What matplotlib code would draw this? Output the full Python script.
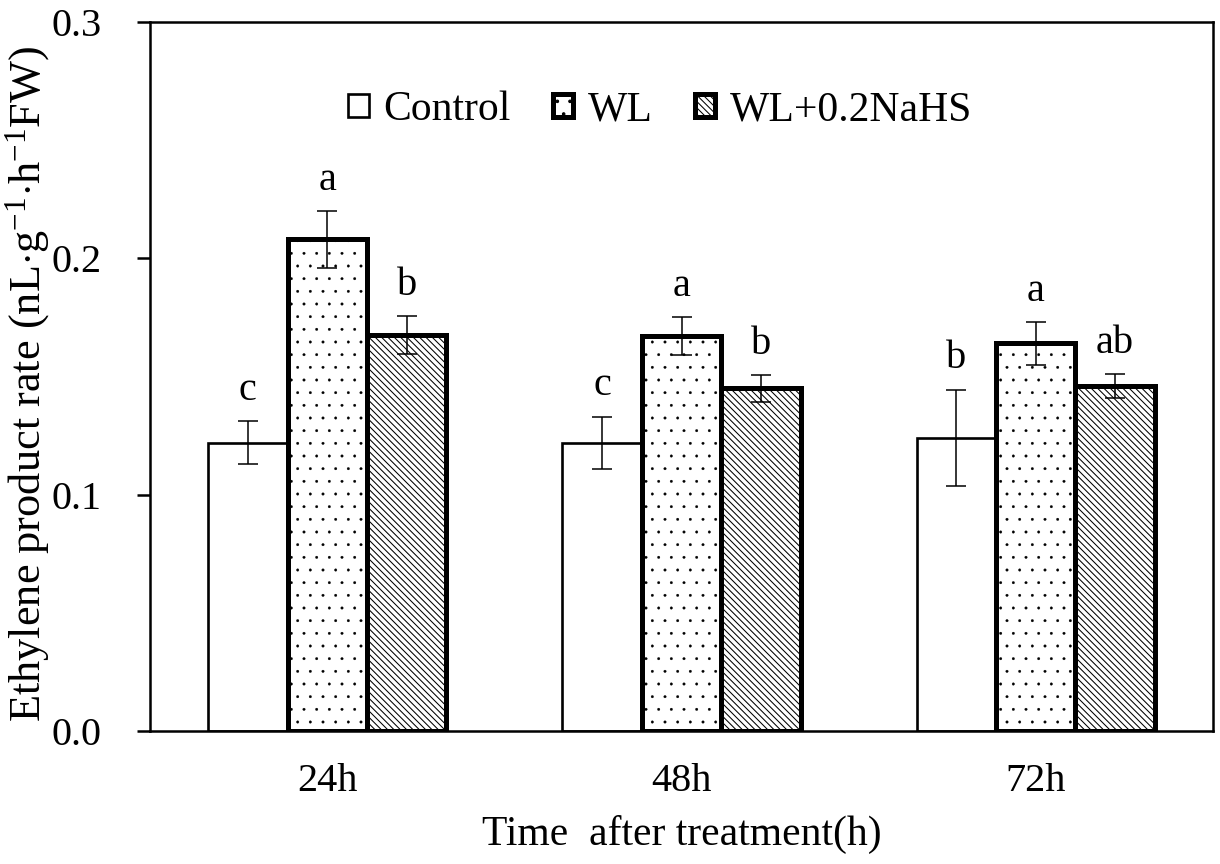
import matplotlib
matplotlib.use("Agg")
import matplotlib.pyplot as plt
import numpy as np

# datos
tiempos = ["24h", "48h", "72h"]
tratamientos = ["Control", "WL", "WL+0.2NaHS"]
control = [0.122, 0.122, 0.124]
control_err = [0.009, 0.011, 0.0205]
wl = [0.208, 0.167, 0.164]
wl_err = [0.012, 0.008, 0.009]
nahs = [0.1675, 0.145, 0.146]
nahs_err = [0.008, 0.0057, 0.005]
letras_control = ["c", "c", "b"]
letras_wl = ["a", "a", "a"]
letras_nahs = ["b", "b", "ab"]

# dpi bajo para que las tramas queden con la separacion del original;
# los tamaños en puntos se escalan con k
DPI = 76
k = 100 / DPI

plt.rcParams["font.family"] = ["Liberation Serif", "DejaVu Serif"]
plt.rcParams["mathtext.fontset"] = "custom"
plt.rcParams["mathtext.rm"] = "Liberation Serif"
plt.rcParams["mathtext.it"] = "Liberation Serif:italic"
plt.rcParams["hatch.linewidth"] = 0.75 * k

fig = plt.figure(figsize=(1221 / DPI, 864 / DPI), dpi=DPI)
ax = fig.add_axes([0.1229, 0.1539, 0.8705, 0.8206])

x = np.arange(len(tiempos))
ancho = 0.224

# (valores, errores, letras, trama, grosor borde, grosor trama)
series = [
    (control, control_err, letras_control, "", 1.9, 0.75),
    (wl, wl_err, letras_wl, ".", 3.6, 0.2),
    (nahs, nahs_err, letras_nahs, "\\\\\\\\", 3.6, 0.75),
]

for i, (valores, errores, letras, trama, grosor, grosor_trama) in enumerate(series):
    pos = x + (i - 1) * ancho
    plt.rcParams["hatch.linewidth"] = grosor_trama * k
    barras = ax.bar(pos, valores, ancho, color="white", edgecolor="black",
                    linewidth=grosor * k, hatch=trama, label=tratamientos[i], zorder=2)
    for b in barras:
        if hasattr(b, "set_hatch_linewidth"):
            b.set_hatch_linewidth(grosor_trama * k)
    ax.errorbar(pos, valores, yerr=errores, fmt="none", ecolor="black",
                elinewidth=1.1 * k, capsize=7 * k, capthick=1.1 * k, zorder=3)
    for p, v, e, l in zip(pos, valores, errores, letras):
        ax.text(p, v + e + 0.009, l, ha="center", va="baseline", fontsize=29 * k)

ax.set_xlim(-0.5, 2.5)
ax.set_ylim(0, 0.3)
ax.set_yticks([0.0, 0.1, 0.2, 0.3])
ax.set_yticklabels(["0.0", "0.1", "0.2", "0.3"])
ax.set_xticks(x)
ax.set_xticklabels(tiempos)
ax.tick_params(axis="x", length=0, pad=23 * k, labelsize=29 * k)
ax.tick_params(axis="y", length=9 * k, width=1.8 * k, direction="out",
               pad=26 * k, labelsize=29 * k)
for lado in ax.spines.values():
    lado.set_linewidth(1.8 * k)

ax.set_ylabel(r"Ethylene product rate (nL$\cdot$g$^{\mathrm{-1}}$$\cdot$h$^{\mathrm{-1}}$FW)",
              fontsize=32 * k)
ax.yaxis.set_label_coords(-0.092, 0.49)
ax.set_xlabel("Time  after treatment(h)", fontsize=30 * k)
ax.xaxis.set_label_coords(0.5, -0.118)

ax.legend(loc="center", bbox_to_anchor=(0.48, 0.876), ncol=3, frameon=False,
          fontsize=30 * k, handlelength=0.5, handleheight=0.5, handletextpad=0.35,
          columnspacing=1.0)

plt.savefig("out.png", dpi=DPI)
